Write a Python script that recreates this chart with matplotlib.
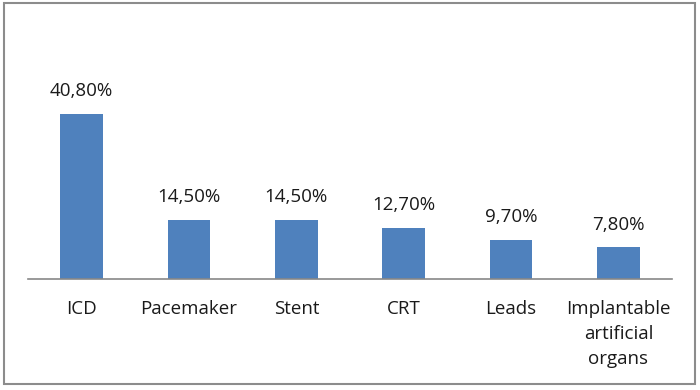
import matplotlib.pyplot as plt
from matplotlib.patches import Rectangle

# datos del grafico
categories = ['ICD', 'Pacemaker', 'Stent', 'CRT', 'Leads',
              'Implantable\nartificial\norgans']
values = [40.8, 14.5, 14.5, 12.7, 9.7, 7.8]
labels = ['40,80%', '14,50%', '14,50%', '12,70%', '9,70%', '7,80%']

plt.rcParams['font.family'] = ['Open Sans', 'DejaVu Sans']

fig = plt.figure(figsize=(7, 3.9), dpi=100)
ax = fig.add_axes([28 / 700, 111 / 390, 644 / 700, 182 / 390])

x = range(len(categories))
bars = ax.bar(x, values, width=0.4, color='#4F81BD')

for b, lab in zip(bars, labels):
    ax.annotate(lab, (b.get_x() + b.get_width() / 2, b.get_height()),
                xytext=(0, 10), textcoords='offset points',
                ha='center', va='bottom', fontsize=13.5, color='#1a1a1a')

ax.set_xlim(-0.5, len(categories) - 0.5)
ax.set_ylim(0, 45)
ax.set_xticks(list(x))
ax.set_xticklabels(categories, fontsize=13.5, color='#1a1a1a', linespacing=1.5)
ax.tick_params(axis='x', length=0, pad=15)
ax.set_yticks([])
for s in ['top', 'right', 'left']:
    ax.spines[s].set_visible(False)
ax.spines['bottom'].set_color('#888888')
ax.spines['bottom'].set_linewidth(1.2)

# marco del grafico
fig.patches.append(Rectangle((4 / 700, 6 / 390), 691 / 700, 381 / 390,
                             transform=fig.transFigure, fill=False,
                             edgecolor='#8c8c8c', linewidth=1.5))

fig.savefig('out.png')
